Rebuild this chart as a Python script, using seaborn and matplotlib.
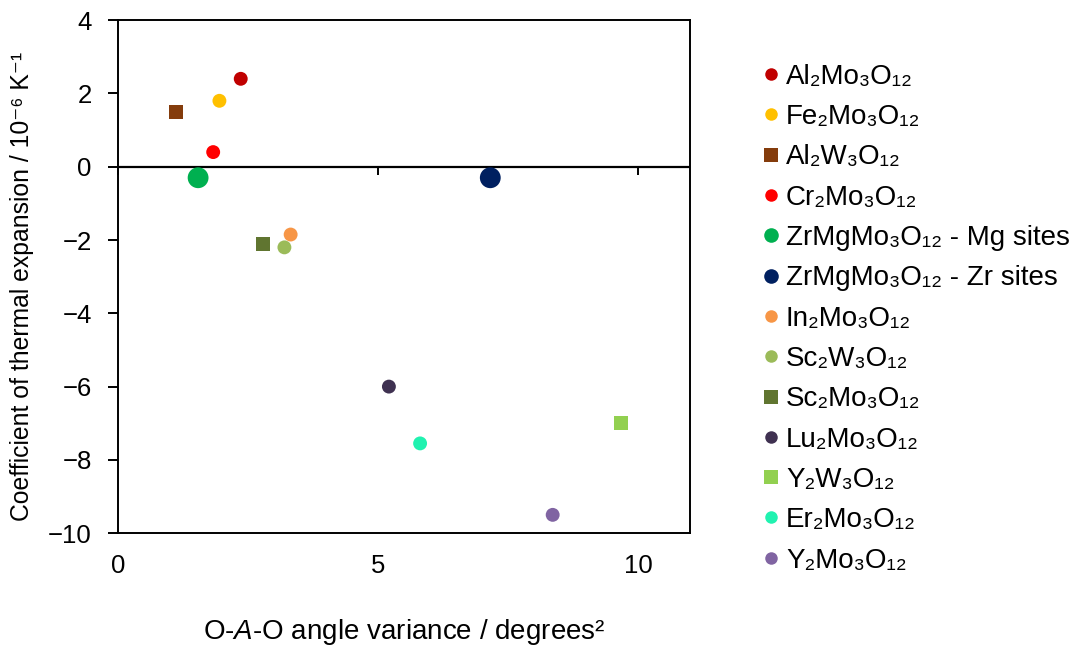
import matplotlib
matplotlib.use("Agg")
import matplotlib.pyplot as plt
from matplotlib.lines import Line2D
import seaborn as sns
import pandas as pd

compounds = ["Al₂Mo₃O₁₂", "Fe₂Mo₃O₁₂", "Al₂W₃O₁₂", "Cr₂Mo₃O₁₂",
             "ZrMgMo₃O₁₂ - Mg sites", "ZrMgMo₃O₁₂ - Zr sites", "In₂Mo₃O₁₂",
             "Sc₂W₃O₁₂", "Sc₂Mo₃O₁₂", "Lu₂Mo₃O₁₂", "Y₂W₃O₁₂", "Er₂Mo₃O₁₂",
             "Y₂Mo₃O₁₂"]
angle_variance = [2.36, 1.95, 1.12, 1.83, 1.54, 7.16, 3.32, 3.20, 2.78, 5.21, 9.67, 5.81, 8.36]
cte = [2.4, 1.8, 1.5, 0.4, -0.3, -0.3, -1.85, -2.2, -2.1, -6.0, -7.0, -7.55, -9.5]
colors = ["#C00000", "#FFC000", "#843C0C", "#FF0000", "#00B050", "#002060", "#F79646",
          "#9BBB59", "#607530", "#3F3151", "#92D050", "#20F2B0", "#8064A2"]
markers = ["o", "o", "s", "o", "o", "o", "o", "o", "s", "o", "s", "o", "o"]
big = [False, False, False, False, True, True, False, False, False, False, False, False, False]

df = pd.DataFrame({"compound": compounds, "x": angle_variance, "y": cte,
                   "big": ["big" if b else "small" for b in big]})

sns.set_theme(style="white")
plt.rcParams["font.family"] = ["Liberation Sans", "DejaVu Sans"]
plt.rcParams["mathtext.fontset"] = "custom"
plt.rcParams["mathtext.rm"] = "Liberation Sans"
plt.rcParams["mathtext.it"] = "Liberation Sans:italic"
for k in ["text.color", "axes.labelcolor", "xtick.color", "ytick.color"]:
    plt.rcParams[k] = "black"

fig = plt.figure(figsize=(10.76, 6.51), dpi=100)
ax = fig.add_axes([0.1097, 0.181, 0.5315, 0.788])

sns.scatterplot(data=df, x="x", y="y", hue="compound", style="compound", size="big",
                palette=dict(zip(compounds, colors)),
                markers=dict(zip(compounds, markers)),
                sizes={"small": 100, "big": 225}, size_order=["big", "small"],
                edgecolor="none", linewidth=0, legend=False, ax=ax, zorder=3)

ax.set_xlim(0, 11)
ax.set_ylim(-10, 4)
ax.set_xticks([0, 5, 10])
ax.set_yticks(range(-10, 5, 2))
ax.axhline(0, color="black", lw=1.6, zorder=2)
for s in ax.spines.values():
    s.set_color("black")
    s.set_linewidth(1.4)
ax.tick_params(axis="x", length=0, pad=15, labelsize=18.5)
ax.tick_params(axis="y", direction="out", length=7, width=1.4, pad=12,
               labelsize=18.5, left=True)

sec = ax.secondary_xaxis(10 / 14)
sec.set_xticks([0, 5, 10])
sec.tick_params(direction="out", length=6, width=1.4, labelbottom=False,
                labeltop=False, top=False, bottom=True)
sec.spines["bottom"].set_visible(False)
sec.spines["top"].set_visible(False)
sec.xaxis.set_ticks_position("bottom")
sec.set_xticklabels([])

ax.set_xlabel("O-$\\mathit{A}$-O angle variance / degrees²", fontsize=20, labelpad=28)
ax.set_ylabel("Coefficient of thermal expansion / 10⁻⁶ K⁻¹", fontsize=17.8)
ax.yaxis.set_label_coords(-0.147, 0.4815)

handles = [Line2D([], [], marker=m, color=c, linestyle="none",
                  markersize=(10.5 if b else 9) if m == "o" else 9.5, markeredgewidth=0)
           for c, m, b in zip(colors, markers, big)]
fig.legend(handles, compounds, loc="upper left", bbox_to_anchor=(0.693, 0.919),
           frameon=False, fontsize=20, handletextpad=0.05, labelspacing=0.515,
           handlelength=1.0, borderaxespad=0)

fig.savefig("out.png", dpi=100)
